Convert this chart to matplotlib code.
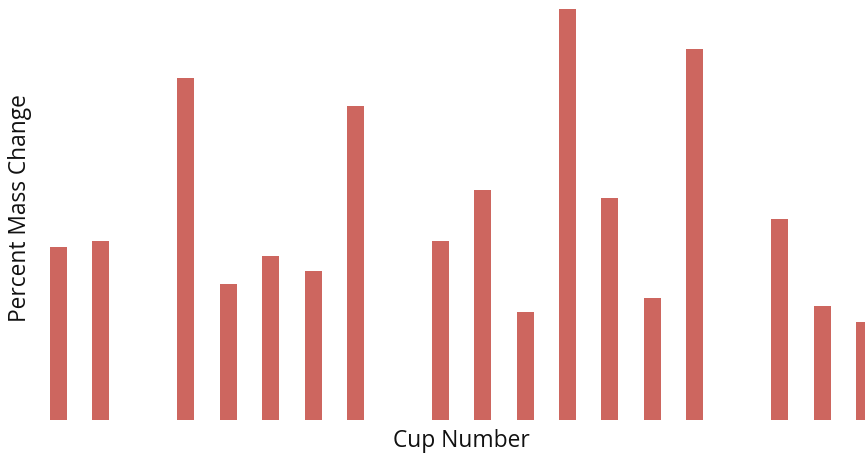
import numpy as np
import matplotlib
matplotlib.use("Agg")
import matplotlib.pyplot as plt

cups = list(range(1, 21))
pct_change = [1.735, 1.795, np.nan, 3.425, 1.365, 1.645, 1.495, 3.145, np.nan,
              1.795, 2.305, 1.085, 4.115, 2.225, 1.225, 3.715, np.nan, 2.015,
              1.145, 0.985]
x_label = "Cup Number"
y_label = "Percent Mass Change"

fig = plt.figure(figsize=(8.65, 4.6), dpi=100)
ax = fig.add_axes([0, (460 - 421) / 460, 1, 421 / 460])
pos = np.arange(len(cups))
ax.bar(pos, pct_change, width=0.40, color="#CD665F")
ax.set_xlim(-58.5 / 42.42, (865 - 58.5) / 42.42)
ax.set_ylim(0, 4.21)
ax.axis("off")

fig.text(461 / 865, 1 - 441 / 460, x_label, ha="center", va="center",
         fontsize=16.4, family="Open Sans", color="#111111")
fig.text(20 / 865, 1 - 208 / 460, y_label, ha="center", va="center",
         rotation=90, fontsize=16.4, family="Open Sans", color="#111111")

fig.savefig("out.png", dpi=100)
